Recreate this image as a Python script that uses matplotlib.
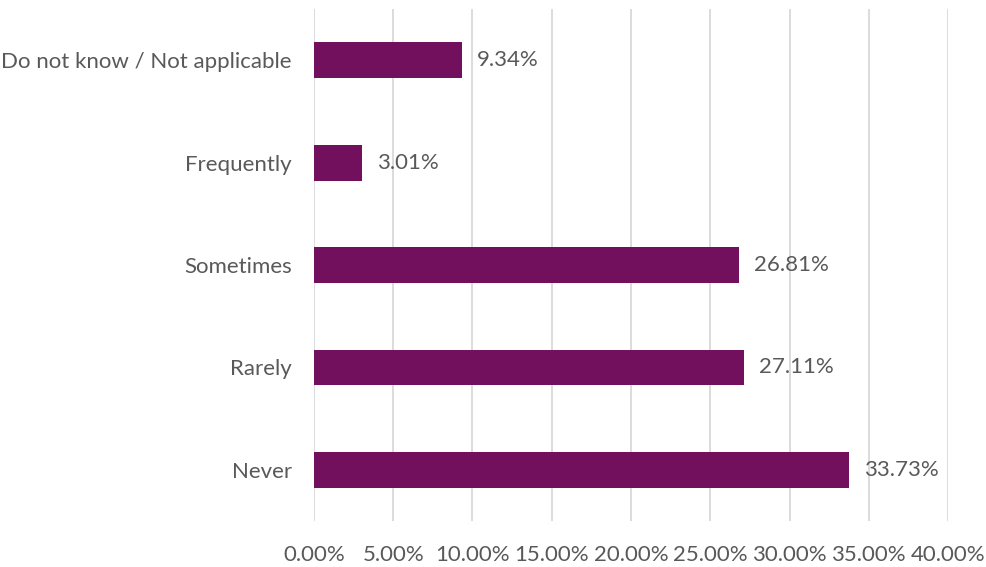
import matplotlib.pyplot as plt
from matplotlib.ticker import FuncFormatter

# survey responses, bottom to top
categories = ['Never', 'Rarely', 'Sometimes', 'Frequently', 'Do not know / Not applicable']
shares = [33.73, 27.11, 26.81, 3.01, 9.34]
x_ticks = [0, 5, 10, 15, 20, 25, 30, 35, 40]

bar_color = '#73105E'
text_color = '#595959'

plt.rcParams['font.family'] = ['Lato', 'DejaVu Sans']

fig = plt.figure(figsize=(9.87, 5.67), dpi=100)
ax = fig.add_axes([0.3181, 0.0811, 0.6424, 0.9029])

ypos = range(len(categories))
ax.barh(ypos, shares, height=0.35, color=bar_color, zorder=3)

for y, v in zip(ypos, shares):
    ax.annotate(f'{v:.2f}%', (v, y), xytext=(11, 0), textcoords='offset points',
                va='center', ha='left', fontsize=16, color=text_color)

ax.set_xlim(0, 40)
ax.set_ylim(-0.5, len(categories) - 0.5)
ax.set_xticks(x_ticks)
ax.xaxis.set_major_formatter(FuncFormatter(lambda v, p: f'{v:.2f}%'))
ax.set_yticks(list(ypos))
ax.set_yticklabels(categories)
ax.tick_params(axis='both', length=0, labelsize=16, labelcolor=text_color)
ax.tick_params(axis='x', pad=17)
ax.tick_params(axis='y', pad=16)

ax.grid(axis='x', color='#D9D9D9', linewidth=1.3, zorder=0)
for s in ax.spines.values():
    s.set_visible(False)

fig.savefig('out.png', dpi=100)
